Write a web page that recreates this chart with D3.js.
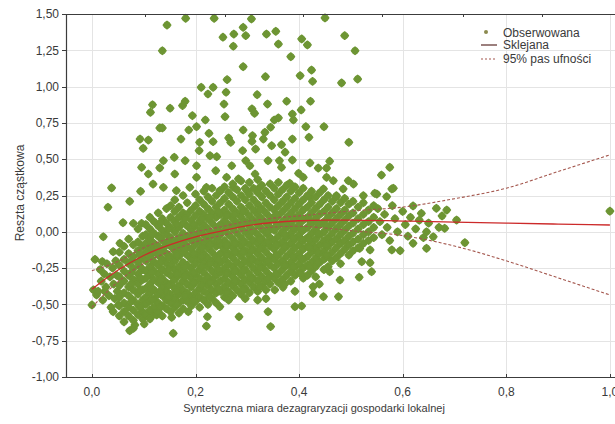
<!DOCTYPE html>
<html>
<head>
<meta charset="utf-8">
<script src="https://cdn.jsdelivr.net/npm/d3@7"></script>
<style>
  html, body { margin: 0; padding: 0; background: #fff; }
  svg { display: block; font-family: "Liberation Sans", Arial, sans-serif; }
</style>
</head>
<body>
<svg id="chart" width="615" height="424"></svg>
<script>
// ---- axis ticks ----
const xTicks = [0.0, 0.2, 0.4, 0.6, 0.8, 1.0];
const yTicks = [-1.0, -0.75, -0.5, -0.25, 0.0, 0.25, 0.5, 0.75, 1.0, 1.25, 1.5];
const topTicks = [0.102, 0.257, 0.407, 0.560, 0.716, 0.869];

// ---- fitted spline and its 95% band ----
const fitX     = [0.0, 0.05, 0.1, 0.15, 0.2, 0.25, 0.3, 0.35, 0.4, 0.45, 0.5, 0.6, 0.7, 0.8, 0.9, 1.0];
const fitY     = [-0.395, -0.265, -0.163, -0.09, -0.035, 0.005, 0.042, 0.064, 0.076, 0.080, 0.080, 0.074, 0.067, 0.060, 0.053, 0.047];
const bandUpper = [-0.268, -0.205, -0.11, -0.045, 0.0, 0.035, 0.072, 0.094, 0.110, 0.127, 0.143, 0.170, 0.228, 0.300, 0.415, 0.530];
const bandLower = [-0.52, -0.345, -0.218, -0.135, -0.07, -0.025, 0.012, 0.032, 0.038, 0.026, 0.008, -0.026, -0.098, -0.200, -0.317, -0.435];

// ---- observed partial residuals ----
// scattered points above the main cloud
const obsHigh = [
  [0.145,1.424],[0.181,1.47],[0.236,1.47],[0.136,1.247],[0.292,1.408],[0.308,1.466],[0.253,1.34],[0.274,1.362],
  [0.297,1.351],[0.273,1.278],[0.337,1.362],[0.355,1.381],[0.292,1.137],[0.335,1.068],[0.261,1.048],[0.211,0.995],
  [0.234,0.995],[0.224,0.949],[0.259,0.961],[0.319,0.944],[0.117,0.875],[0.113,0.823],[0.151,0.851],[0.175,0.869],
  [0.180,0.899],[0.255,0.880],[0.339,0.880],[0.309,0.846],[0.314,0.816],[0.194,0.80],[0.257,0.793],[0.219,0.770],
  [0.352,0.770],[0.131,0.715],[0.136,0.715],[0.187,0.701],[0.202,0.724],[0.226,0.678],[0.292,0.701],[0.345,0.72],
  [0.093,0.639],[0.109,0.632],[0.172,0.639],[0.208,0.616],[0.234,0.621],[0.264,0.646],[0.268,0.616],[0.310,0.662],
  [0.309,0.623],[0.334,0.685],[0.331,0.639],[0.099,0.575],[0.207,0.559],[0.228,0.524],[0.241,0.517],[0.291,0.559],
  [0.316,0.570],[0.347,0.593],[0.362,0.49],[0.096,0.444],[0.138,0.49],[0.131,0.44],[0.159,0.513],[0.180,0.49],
  [0.202,0.455],[0.239,0.421],[0.270,0.455],[0.297,0.49],[0.305,0.455],[0.340,0.49],[0.109,0.398],[0.160,0.398],
  [0.202,0.375],[0.260,0.375],[0.283,0.364],[0.315,0.398],[0.038,0.302],[0.094,0.279],[0.118,0.329],[0.138,0.306],
  [0.163,0.283],[0.189,0.306],[0.221,0.306],[0.247,0.283],[0.273,0.306],[0.299,0.283],[0.324,0.306],[0.073,0.21],
  [0.450,1.473],[0.360,1.293],[0.405,1.328],[0.416,1.287],[0.488,1.351],[0.508,1.247],[0.384,1.206],[0.424,1.114],
  [0.402,1.075],[0.426,1.036],[0.482,1.025],[0.513,1.052],[0.376,0.899],[0.422,0.899],[0.404,0.839],[0.387,0.811],
  [0.389,0.770],[0.360,0.784],[0.413,0.724],[0.448,0.724],[0.387,0.639],[0.419,0.651],[0.496,0.616],[0.366,0.600],
  [0.373,0.548],[0.387,0.494],[0.421,0.474],[0.459,0.486],[0.437,0.439],[0.453,0.439],[0.575,0.444],[0.366,0.444],
  [0.399,0.403],[0.408,0.375],[0.559,0.391],[0.453,0.375],[0.466,0.352],[0.495,0.352],[0.505,0.329],[0.382,0.334],
  [0.579,0.295],[0.447,0.295],[0.550,0.260],[0.569,0.242],[0.485,0.295],[0.421,0.238],[0.472,0.249],[0.524,0.249]
];

// scattered points below / left of the main cloud
const obsLow = [
  [0.073,-0.681],[0.080,-0.665],[0.083,-0.642],[0.101,-0.635],[0.157,-0.699],[0.154,-0.589],[0.118,-0.573],[0.125,-0.573],
  [0.221,-0.649],[0.223,-0.585],[0.284,-0.585],[0.345,-0.653],[0.340,-0.55],[0.247,-0.516],[0.186,-0.55],[0.041,-0.55],
  [0.051,-0.504],[0.0,-0.504],[0.009,-0.435],[0.025,-0.41],[0.003,-0.40],[0.006,-0.19],[0.020,-0.205],[0.022,-0.034],
  [0.031,0.169],[0.041,-0.137],[0.054,-0.079],[0.060,0.063],[0.080,0.058],[0.096,0.058],[0.353,-0.40],[0.369,-0.382],
  [0.392,-0.41],[0.392,-0.516],[0.405,-0.511],[0.427,-0.424],[0.427,-0.378],[0.439,-0.36],[0.447,-0.447],[0.476,-0.447],
  [0.459,-0.275],[0.479,-0.332],[0.517,-0.114],[0.537,-0.125],[0.521,-0.206],[0.537,-0.213],[0.516,-0.313],[0.540,-0.275],
  [0.016,-0.26],[0.018,-0.34],[0.021,-0.47],[0.024,-0.29],[0.027,-0.38],[0.029,-0.22],[0.033,-0.44],[0.035,-0.31],
  [0.037,-0.52],[0.040,-0.25],[0.042,-0.36],[0.044,-0.46],[0.046,-0.20],[0.048,-0.30],[0.049,-0.41],[0.012,-0.41]
];

// sparse points on the right-hand side
const obsRight = [
  [0.552,0.16],[0.556,0.07],[0.560,-0.02],[0.565,0.12],[0.570,0.03],[0.575,-0.06],[0.580,0.18],[0.585,0.09],
  [0.590,0.00],[0.595,-0.13],[0.600,0.14],[0.605,0.05],[0.610,-0.03],[0.615,0.10],[0.620,0.178],[0.620,-0.079],
  [0.625,0.02],[0.632,0.08],[0.636,0.127],[0.640,-0.04],[0.646,0.0],[0.646,-0.114],[0.650,0.06],[0.659,-0.034],
  [0.665,0.162],[0.670,0.03],[0.676,0.109],[0.681,0.024],[0.685,0.150],[0.704,0.081],[0.720,-0.075],[0.579,-0.125],
  [0.582,0.30],[0.546,0.265],[1.0,0.142]
];

// dense core of the cloud, stored as [x, [y values at that x]]
const obsCore = [
  [0.053,[-0.14,-0.23,-0.31,-0.37,-0.45,-0.51,-0.58]],
  [0.062,[-0.10,-0.19,-0.27,-0.34,-0.42,-0.49,-0.55,-0.62]],
  [0.071,[-0.05,-0.15,-0.22,-0.30,-0.38,-0.44,-0.52,-0.58]],
  [0.080,[-0.09,-0.17,-0.25,-0.33,-0.40,-0.47,-0.54,-0.61]],
  [0.089,[0.02,-0.07,-0.13,-0.21,-0.29,-0.36,-0.43,-0.50,-0.57]],
  [0.098,[-0.03,-0.10,-0.18,-0.26,-0.33,-0.40,-0.47,-0.55,-0.60]],
  [0.104,[0.05,-0.02,-0.08,-0.14,-0.20,-0.27,-0.32,-0.39,-0.45,-0.50,-0.57]],
  [0.112,[0.10,0.02,-0.05,-0.11,-0.17,-0.24,-0.30,-0.36,-0.42,-0.48,-0.54,-0.60]],
  [0.120,[0.07,-0.01,-0.08,-0.14,-0.21,-0.27,-0.33,-0.40,-0.46,-0.52]],
  [0.128,[0.13,0.04,-0.03,-0.10,-0.16,-0.23,-0.29,-0.35,-0.43,-0.49,-0.55]],
  [0.136,[0.09,0.01,-0.06,-0.12,-0.19,-0.26,-0.32,-0.38,-0.44,-0.51,-0.58]],
  [0.144,[0.16,0.06,-0.02,-0.09,-0.15,-0.22,-0.28,-0.35,-0.41,-0.47,-0.53]],
  [0.152,[0.18,0.10,0.03,-0.04,-0.10,-0.17,-0.23,-0.30,-0.36,-0.43,-0.49,-0.55]],
  [0.160,[0.22,0.14,0.07,0.00,-0.07,-0.13,-0.20,-0.26,-0.33,-0.39,-0.46,-0.52]],
  [0.168,[0.17,0.10,0.03,-0.04,-0.11,-0.17,-0.24,-0.30,-0.37,-0.43,-0.49,-0.56]],
  [0.176,[0.25,0.13,0.06,-0.01,-0.08,-0.14,-0.21,-0.27,-0.34,-0.40,-0.47,-0.53]],
  [0.184,[0.20,0.12,0.04,-0.03,-0.10,-0.16,-0.23,-0.29,-0.36,-0.42,-0.48]],
  [0.192,[0.15,0.08,0.01,-0.06,-0.12,-0.19,-0.25,-0.32,-0.38,-0.45,-0.51]],
  [0.200,[0.26,0.18,0.11,0.04,-0.03,-0.09,-0.16,-0.22,-0.29,-0.35,-0.42,-0.48]],
  [0.208,[0.22,0.14,0.07,0.00,-0.06,-0.13,-0.19,-0.26,-0.32,-0.39,-0.45,-0.52]],
  [0.216,[0.28,0.19,0.12,0.05,-0.02,-0.08,-0.15,-0.21,-0.28,-0.34,-0.41,-0.47]],
  [0.224,[0.24,0.16,0.09,0.02,-0.05,-0.11,-0.18,-0.24,-0.31,-0.37,-0.43,-0.50]],
  [0.232,[0.30,0.21,0.13,0.06,-0.01,-0.08,-0.14,-0.20,-0.27,-0.33,-0.40,-0.46]],
  [0.240,[0.25,0.17,0.10,0.03,-0.04,-0.10,-0.17,-0.23,-0.30,-0.36,-0.42,-0.49]],
  [0.248,[0.28,0.20,0.12,0.05,-0.02,-0.09,-0.15,-0.21,-0.28,-0.34,-0.41]],
  [0.256,[0.31,0.23,0.15,0.08,0.01,-0.06,-0.12,-0.19,-0.25,-0.32,-0.38,-0.45]],
  [0.264,[0.27,0.19,0.12,0.05,-0.02,-0.09,-0.15,-0.22,-0.28,-0.35,-0.41,-0.47]],
  [0.272,[0.33,0.24,0.16,0.09,0.02,-0.05,-0.11,-0.18,-0.24,-0.31,-0.37,-0.44]],
  [0.280,[0.29,0.21,0.13,0.06,-0.01,-0.08,-0.14,-0.21,-0.27,-0.34,-0.40]],
  [0.288,[0.35,0.25,0.17,0.10,0.03,-0.04,-0.10,-0.17,-0.23,-0.30,-0.36,-0.43]],
  [0.296,[0.30,0.22,0.14,0.07,0.00,-0.07,-0.13,-0.20,-0.26,-0.33,-0.39,-0.46]],
  [0.304,[0.34,0.26,0.18,0.11,0.04,-0.03,-0.09,-0.16,-0.22,-0.29,-0.35,-0.42]],
  [0.312,[0.30,0.22,0.15,0.08,0.01,-0.06,-0.12,-0.19,-0.25,-0.32,-0.38]],
  [0.320,[0.36,0.27,0.19,0.12,0.05,-0.02,-0.08,-0.15,-0.21,-0.28,-0.34,-0.41,-0.47]],
  [0.328,[0.32,0.24,0.16,0.09,0.02,-0.05,-0.11,-0.18,-0.24,-0.31,-0.37]],
  [0.336,[0.28,0.20,0.13,0.06,-0.01,-0.08,-0.14,-0.21,-0.27,-0.34,-0.40,-0.46]],
  [0.344,[0.33,0.25,0.17,0.10,0.03,-0.04,-0.10,-0.17,-0.23,-0.30,-0.36]],
  [0.352,[0.30,0.22,0.15,0.08,0.01,-0.06,-0.12,-0.19,-0.25,-0.32]],
  [0.360,[0.34,0.26,0.18,0.11,0.04,-0.03,-0.09,-0.16,-0.22,-0.29,-0.35]],
  [0.368,[0.29,0.21,0.14,0.07,0.00,-0.07,-0.13,-0.20,-0.26,-0.33]],
  [0.376,[0.32,0.24,0.17,0.10,0.03,-0.04,-0.10,-0.17,-0.23,-0.30]],
  [0.384,[0.28,0.20,0.13,0.06,-0.01,-0.08,-0.14,-0.21,-0.27,-0.34]],
  [0.392,[0.31,0.23,0.16,0.09,0.02,-0.05,-0.11,-0.18,-0.24,-0.30]],
  [0.400,[0.27,0.19,0.12,0.05,-0.02,-0.09,-0.15,-0.22,-0.28]],
  [0.408,[0.30,0.22,0.15,0.08,0.01,-0.06,-0.12,-0.19,-0.25,-0.32]],
  [0.416,[0.25,0.17,0.10,0.03,-0.04,-0.10,-0.17,-0.23,-0.30]],
  [0.424,[0.28,0.20,0.13,0.06,-0.01,-0.08,-0.14,-0.21,-0.27]],
  [0.432,[0.24,0.16,0.09,0.02,-0.05,-0.11,-0.18,-0.24,-0.31]],
  [0.440,[0.27,0.19,0.12,0.05,-0.02,-0.09,-0.15,-0.21]],
  [0.448,[0.22,0.14,0.07,0.00,-0.06,-0.13,-0.19,-0.26]],
  [0.456,[0.25,0.17,0.10,0.03,-0.04,-0.10,-0.17,-0.24]],
  [0.464,[0.21,0.13,0.06,-0.01,-0.07,-0.14,-0.20]],
  [0.472,[0.24,0.16,0.09,0.02,-0.05,-0.11,-0.18]],
  [0.480,[0.20,0.12,0.05,-0.02,-0.08,-0.15,-0.22]],
  [0.488,[0.23,0.15,0.08,0.01,-0.06,-0.12]],
  [0.496,[0.19,0.11,0.04,-0.03,-0.09,-0.16]],
  [0.504,[0.21,0.13,0.06,-0.01,-0.07,-0.13]],
  [0.514,[0.17,0.09,0.02,-0.05,-0.11]],
  [0.524,[0.20,0.12,0.05,-0.02,-0.08]],
  [0.534,[0.15,0.07,0.00,-0.06]],
  [0.544,[0.18,0.10,0.03,-0.04]]
];

// further points packed into the densest part of the cloud
const obsCoreInner = [
  [0.076,[-0.48,-0.36,-0.28,-0.20]],
  [0.093,[-0.52,-0.40,-0.32,-0.24,-0.16]],
  [0.116,[-0.47,-0.39,-0.28,-0.19,-0.12,-0.02]],
  [0.132,[-0.52,-0.41,-0.33,-0.21,-0.14,-0.04,0.06]],
  [0.148,[-0.45,-0.37,-0.26,-0.18,-0.07,0.02]],
  [0.164,[-0.50,-0.41,-0.29,-0.16,-0.09,0.05]],
  [0.180,[-0.44,-0.31,-0.24,-0.12,-0.05,0.09]],
  [0.196,[-0.47,-0.35,-0.28,-0.15,-0.02,0.05]],
  [0.212,[-0.37,-0.24,-0.17,-0.11,0.02,0.09]],
  [0.228,[-0.45,-0.35,-0.22,-0.09,-0.03,0.10]],
  [0.244,[-0.39,-0.26,-0.19,-0.06,0.01,0.14]],
  [0.260,[-0.42,-0.29,-0.16,-0.09,0.04,0.11]],
  [0.276,[-0.34,-0.27,-0.14,-0.08,0.05,0.12]],
  [0.292,[-0.40,-0.27,-0.14,-0.07,0.06,0.14]],
  [0.308,[-0.32,-0.19,-0.13,0.00,0.07]],
  [0.324,[-0.38,-0.25,-0.12,-0.05,0.08,0.15]],
  [0.340,[-0.32,-0.20,-0.07,0.00,0.06]],
  [0.356,[-0.29,-0.16,-0.09,0.04,0.12]],
  [0.372,[-0.36,-0.23,-0.10,-0.02,0.05]],
  [0.388,[-0.24,-0.17,-0.04,0.03,0.10]],
  [0.404,[-0.29,-0.18,-0.05,0.02,0.09]],
  [0.420,[-0.24,-0.11,-0.05,0.08]],
  [0.436,[-0.21,-0.14,-0.01,0.06]],
  [0.452,[-0.16,-0.09,0.04]]
];

// ---- layout ----
const svg = d3.select("#chart");
const plotLeft = 66, plotTop = 14, plotBottom = 377;
const x = d3.scaleLinear().domain([-0.05, 1.05]).range([plotLeft, plotLeft + 1.1 * 518]);
const y = d3.scaleLinear().domain([-1.0, 1.5]).range([plotBottom, plotTop]);

const pl = d3.formatLocale({decimal: ",", thousands: " ", grouping: [3], currency: ["", " zł"], minus: "-"});
const fmtY = pl.format(".2f");
const fmtX = pl.format(".1f");

const axisColor = "#3c3c3c";
const textColor = "#3a3a3a";
const markColor = "#6d9533";

// grid
const grid = svg.append("g");
grid.selectAll("line.gy").data(yTicks.filter(v => v > -1 && v < 1.5)).join("line")
  .attr("x1", plotLeft).attr("x2", 615)
  .attr("y1", d => Math.round(y(d)) + 0.5).attr("y2", d => Math.round(y(d)) + 0.5)
  .attr("stroke", "#e4e4e4").attr("stroke-width", 1);
grid.selectAll("line.gx").data(xTicks).join("line")
  .attr("x1", d => Math.round(x(d)) + 0.5).attr("x2", d => Math.round(x(d)) + 0.5)
  .attr("y1", plotTop).attr("y2", plotBottom)
  .attr("stroke", "#e4e4e4").attr("stroke-width", 1);

// observed points: rounded plus-shaped marker
const plusMark = {
  draw(ctx, size) {
    const r = Math.sqrt(size) / 2, k = r * 0.58;
    ctx.moveTo(0, -r); ctx.lineTo(k, -k); ctx.lineTo(r, 0); ctx.lineTo(k, k);
    ctx.lineTo(0, r); ctx.lineTo(-k, k); ctx.lineTo(-r, 0); ctx.lineTo(-k, -k); ctx.closePath();
  }
};
const toPairs = cols => cols.flatMap(([cx, ys]) => ys.map(v => [cx, v]));
const allObs = [...obsHigh, ...obsLow, ...obsRight, ...toPairs(obsCore), ...toPairs(obsCoreInner)];
const markerPath = d3.symbol().type(plusMark).size(60)();

svg.append("g").selectAll("path").data(allObs).join("path")
  .attr("d", markerPath)
  .attr("transform", d => `translate(${x(d[0])},${y(d[1])})`)
  .attr("fill", markColor)
  .attr("stroke", markColor)
  .attr("stroke-width", 1.2)
  .attr("stroke-linejoin", "round");

// spline and band
const fitLine = d3.line().x((d, i) => x(fitX[i])).y(d => y(d)).curve(d3.curveMonotoneX);
svg.append("path").attr("d", fitLine(bandUpper))
  .attr("fill", "none").attr("stroke", "#a4574e").attr("stroke-width", 1.1).attr("stroke-dasharray", "3,2");
svg.append("path").attr("d", fitLine(bandLower))
  .attr("fill", "none").attr("stroke", "#a4574e").attr("stroke-width", 1.1).attr("stroke-dasharray", "3,2");
svg.append("path").attr("d", fitLine(fitY))
  .attr("fill", "none").attr("stroke", "#cc2a2a").attr("stroke-width", 1.3);

// frame: left, bottom, top
svg.append("line").attr("x1", plotLeft + 0.5).attr("x2", plotLeft + 0.5).attr("y1", plotTop).attr("y2", plotBottom + 0.5)
  .attr("stroke", axisColor).attr("stroke-width", 1.2);
svg.append("line").attr("x1", plotLeft).attr("x2", 615).attr("y1", plotBottom + 0.5).attr("y2", plotBottom + 0.5)
  .attr("stroke", axisColor).attr("stroke-width", 1.2);
svg.append("line").attr("x1", plotLeft).attr("x2", 615).attr("y1", plotTop + 0.5).attr("y2", plotTop + 0.5)
  .attr("stroke", axisColor).attr("stroke-width", 1.2);

// y ticks and labels
svg.append("g").selectAll("line").data(yTicks).join("line")
  .attr("x1", plotLeft - 4).attr("x2", plotLeft)
  .attr("y1", d => Math.round(y(d)) + 0.5).attr("y2", d => Math.round(y(d)) + 0.5)
  .attr("stroke", axisColor);
svg.append("g").selectAll("text").data(yTicks).join("text")
  .attr("x", 59).attr("y", d => y(d)).attr("dy", "0.35em")
  .attr("text-anchor", "end").attr("font-size", 12).attr("fill", textColor)
  .text(d => fmtY(d));

// x ticks and labels
svg.append("g").selectAll("line").data(xTicks).join("line")
  .attr("x1", d => Math.round(x(d)) + 0.5).attr("x2", d => Math.round(x(d)) + 0.5)
  .attr("y1", plotBottom - 3).attr("y2", plotBottom)
  .attr("stroke", axisColor);
svg.append("g").selectAll("text").data(xTicks).join("text")
  .attr("x", d => x(d)).attr("y", 391.5).attr("dy", "0.35em")
  .attr("text-anchor", "middle").attr("font-size", 12).attr("fill", textColor)
  .text(d => fmtX(d));

// top ticks
svg.append("g").selectAll("line").data(topTicks).join("line")
  .attr("x1", d => Math.round(x(d)) + 0.5).attr("x2", d => Math.round(x(d)) + 0.5)
  .attr("y1", plotTop).attr("y2", plotTop + 3)
  .attr("stroke", axisColor);

// axis titles
svg.append("text").attr("x", 314).attr("y", 411.5)
  .attr("text-anchor", "middle").attr("font-size", 11).attr("fill", textColor)
  .text("Syntetyczna miara dezagraryzacji gospodarki lokalnej");
svg.append("text").attr("transform", "translate(24,193) rotate(-90)")
  .attr("text-anchor", "middle").attr("font-size", 12).attr("fill", textColor)
  .text("Reszta cząstkowa");

// legend
const lg = svg.append("g").attr("font-size", 12).attr("fill", textColor);
lg.append("circle").attr("cx", 486).attr("cy", 32).attr("r", 2)
  .attr("fill", "#8b8a4e");
lg.append("text").attr("x", 503).attr("y", 32.5).attr("dy", "0.35em").text("Obserwowana");
lg.append("line").attr("x1", 481).attr("x2", 497).attr("y1", 45).attr("y2", 45)
  .attr("stroke", "#5a2a28").attr("stroke-width", 1.2);
lg.append("text").attr("x", 503).attr("y", 45).attr("dy", "0.35em").text("Sklejana");
lg.append("line").attr("x1", 481).attr("x2", 497).attr("y1", 59).attr("y2", 59)
  .attr("stroke", "#a4574e").attr("stroke-width", 1.1).attr("stroke-dasharray", "2,2");
lg.append("text").attr("x", 503).attr("y", 59).attr("dy", "0.35em").text("95% pas ufności");
</script>
</body>
</html>
